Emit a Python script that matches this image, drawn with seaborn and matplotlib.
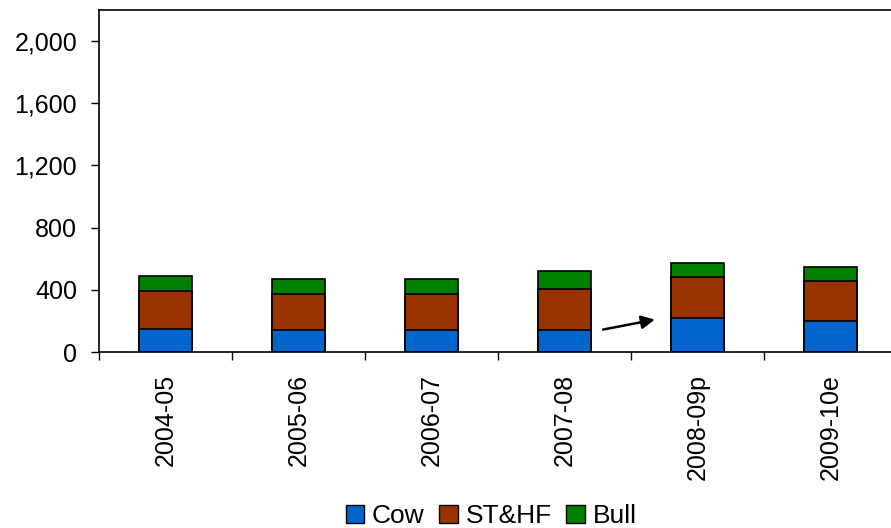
import numpy as np
import pandas as pd
import matplotlib.pyplot as plt
import seaborn as sns
from matplotlib.patches import Patch

years = ["2004-05", "2005-06", "2006-07", "2007-08", "2008-09p", "2009-10e"]
cow = [148, 141, 143, 141, 219, 201]
st_hf = [242, 234, 233, 266, 265, 257]
bull = [96, 94, 95, 114, 88, 89]

colors = {"Cow": "#0066CC", "ST&HF": "#993300", "Bull": "#008000"}

sns.set_style("ticks")
plt.rcParams['font.family'] = ['Liberation Sans', 'DejaVu Sans']
plt.rcParams['text.color'] = 'black'
plt.rcParams['xtick.labelcolor'] = 'black'
plt.rcParams['ytick.labelcolor'] = 'black'

df = pd.DataFrame({"year": years, "Cow": cow, "ST&HF": st_hf, "Bull": bull})
df["lvl2"] = df["Cow"] + df["ST&HF"]
df["lvl3"] = df["lvl2"] + df["Bull"]

fig = plt.figure(figsize=(8.91, 5.28), dpi=100)
ax = fig.add_axes([99 / 891, 1 - 352 / 528, 798 / 891, 342 / 528])

# stacked bars drawn as layered cumulative totals
sns.barplot(data=df, x="year", y="lvl3", color=colors["Bull"], saturation=1,
            width=0.405, edgecolor="black", linewidth=1.2, ax=ax)
sns.barplot(data=df, x="year", y="lvl2", color=colors["ST&HF"], saturation=1,
            width=0.405, edgecolor="black", linewidth=1.2, ax=ax)
sns.barplot(data=df, x="year", y="Cow", color=colors["Cow"], saturation=1,
            width=0.405, edgecolor="black", linewidth=1.2, ax=ax)

ax.set_xlim(-0.5, 5.5)
ax.set_ylim(0, 2200)
ax.set_yticks([0, 400, 800, 1200, 1600, 2000])
ax.set_yticklabels(["0", "400", "800", "1,200", "1,600", "2,000"], fontsize=18)
ax.set_xticks(range(len(years)))
ax.set_xticklabels(years, rotation=90, fontsize=18)
ax.tick_params(axis="x", length=0, pad=16, labelcolor="black")
ax.tick_params(axis="y", length=5.8, width=1, color="black", pad=10, labelcolor="black")
ax.set_xticks(np.arange(-0.5, 6.0, 1), minor=True)
ax.tick_params(axis="x", which="minor", length=5.8, width=1, color="black")
ax.set_xlabel("")
ax.set_ylabel("")
for s in ["left", "bottom", "top", "right"]:
    ax.spines[s].set_color("black")
    ax.spines[s].set_linewidth(1.2)

ax.annotate("", xy=(3.70, 212), xytext=(3.27, 141),
            arrowprops=dict(arrowstyle="-|>", color="black", lw=1.8,
                            mutation_scale=20))

handles = [Patch(facecolor=c, edgecolor="black", label=k) for k, c in colors.items()]
fig.legend(handles=handles, loc="center", bbox_to_anchor=(491 / 891, 1 - 516 / 528),
           ncol=3, frameon=False, fontsize=19, handlelength=0.7, handleheight=0.7,
           handletextpad=0.3, columnspacing=0.55, borderpad=0, labelcolor="black")

fig.savefig("out.png", dpi=100)
